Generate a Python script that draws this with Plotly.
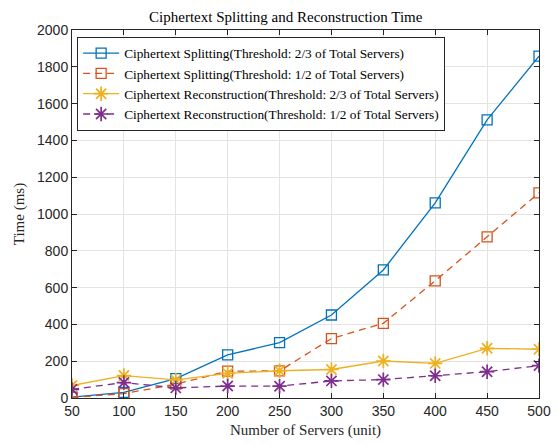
import plotly.graph_objects as go

servers = [50, 100, 150, 200, 250, 300, 350, 400, 450, 500]
split_2_3 = [5, 30, 105, 234, 301, 451, 696, 1060, 1512, 1858]
split_1_2 = [3, 24, 75, 146, 147, 323, 406, 637, 876, 1115]
recon_2_3 = [68, 122, 98, 134, 148, 155, 201, 188, 270, 265]
recon_1_2 = [47, 84, 55, 65, 64, 93, 100, 121, 143, 176]

names = [
    "Ciphertext Splitting(Threshold: 2/3 of Total Servers)",
    "Ciphertext Splitting(Threshold: 1/2 of Total Servers)",
    "Ciphertext Reconstruction(Threshold: 2/3 of Total Servers)",
    "Ciphertext Reconstruction(Threshold: 1/2 of Total Servers)",
]
series = [split_2_3, split_1_2, recon_2_3, recon_1_2]
colors = ["#0072BD", "#D95319", "#EDB120", "#7E2F8E"]
dashes = ["solid", "7px,5px", "solid", "7px,5px"]
symbols = ["square-open", "square-open", "asterisk-open", "asterisk-open"]
msizes = [10, 10, 12, 12]
mwidths = [1.3, 1.3, 1.7, 1.7]

fig = go.Figure()
for name, ys, c, d, s, ms, mw in zip(names, series, colors, dashes, symbols, msizes, mwidths):
    fig.add_trace(go.Scatter(
        x=servers, y=ys, name=name, mode="lines+markers",
        line=dict(color=c, width=1.3, dash=d),
        marker=dict(symbol=s, size=ms, color=c, line=dict(color=c, width=mw)),
    ))

serif = "Liberation Serif, Times New Roman"
axis_common = dict(
    showline=True, linecolor="#262626", linewidth=1, mirror="ticks",
    ticks="inside", ticklen=5, tickcolor="#262626",
    showgrid=True, gridcolor="#e3e3e3", gridwidth=1,
    zeroline=False, automargin=False,
    tickfont=dict(family="Liberation Sans, Arial", size=14, color="#262626"),
)

fig.update_layout(
    width=557, height=443,
    margin=dict(l=72, r=18, t=30, b=45),
    paper_bgcolor="white", plot_bgcolor="white",
    title=dict(text="Ciphertext Splitting and Reconstruction Time",
               x=0.513, xref="container", xanchor="center", y=0.9616, yref="container", yanchor="middle",
               font=dict(family=serif, size=15, color="black")),
    xaxis=dict(range=[50, 500], tickvals=servers,
               title=dict(text="Number of Servers (unit)", standoff=6,
                          font=dict(family=serif, size=15, color="#262626")),
               **axis_common),
    yaxis=dict(range=[0, 2000], dtick=200,
               title=dict(text="Time (ms)", standoff=8,
                          font=dict(family=serif, size=15, color="#262626")),
               **axis_common),
    legend=dict(x=0.011, y=0.981, xanchor="left", yanchor="top",
                bgcolor="white", bordercolor="#262626", borderwidth=1,
                font=dict(family=serif, size=13.3, color="black"),
                tracegroupgap=0, itemwidth=36),
    showlegend=True,
)

fig.write_html("out.html", config={"displayModeBar": False},
               post_script="document.body.style.margin='0';")
